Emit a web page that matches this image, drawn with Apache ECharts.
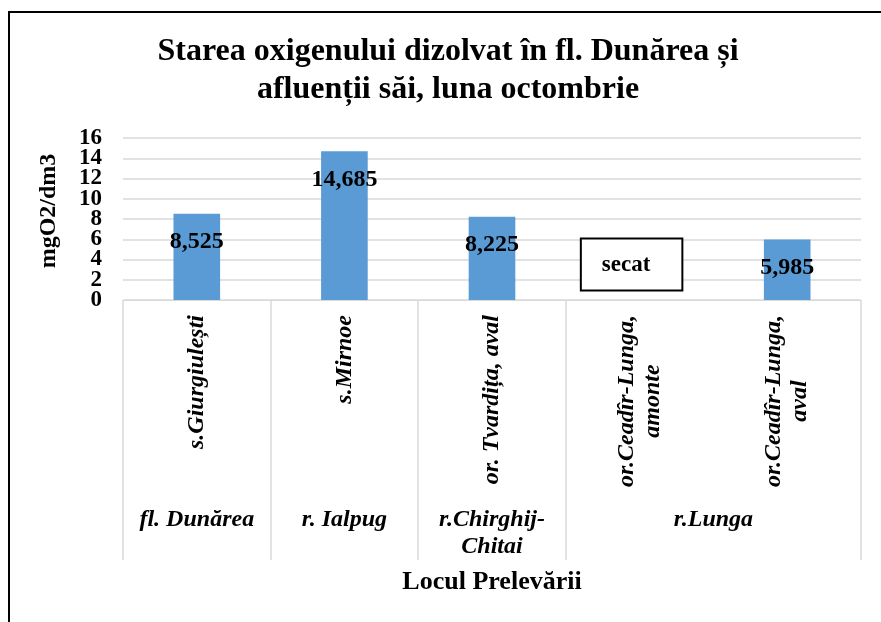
<!DOCTYPE html>
<html>
<head>
<meta charset="utf-8">
<script src="https://cdn.jsdelivr.net/npm/echarts@6/dist/echarts.min.js"></script>
<style>html,body{margin:0;padding:0;background:#fff}#c{width:881px;height:622px}</style>
</head>
<body>
<div id="c"></div>
<script>
const titleText = 'Starea oxigenului dizolvat în fl. Dunărea și\nafluenții săi, luna octombrie';
const categories = ['s.Giurgiulești', 's.Mirnoe', 'or. Tvardița, aval', 'or.Ceadîr-Lunga,\namonte', 'or.Ceadîr-Lunga,\naval'];
const values = [8.525, 14.685, 8.225, null, 5.985];
const notes = ['', '', '', 'secat', ''];
const groups = ['fl. Dunărea', 'r. Ialpug', 'r.Chirghij-\nChitai', 'r.Lunga'];
const groupCenters = [0.5, 1.5, 2.5, 4];
const groupBounds = [0, 1, 2, 3, 5];
const yTicks = [0, 2, 4, 6, 8, 10, 12, 14, 16];
const yName = 'mgO2/dm3';
const xName = 'Locul Prelevării';

const FONT = 'Liberation Serif, Times New Roman, serif';
const noteData = notes.map((n, i) => n ? { value: [i, 0], note: n } : null).filter(Boolean);
const yMin = yTicks[0], yMax = yTicks[yTicks.length - 1];
const yLabelStyle = { margin: 21, fontFamily: FONT, fontSize: 23, fontWeight: 'bold', color: '#000', showMinLabel: true, showMaxLabel: true };

const chart = echarts.init(document.getElementById('c'));
chart.setOption({
  animation: false,
  textStyle: { fontFamily: FONT, color: '#000' },
  title: {
    text: titleText,
    left: 448, top: 33, padding: 0, textAlign: 'center',
    textStyle: { fontFamily: FONT, fontSize: 32, fontWeight: 'bold', lineHeight: 38, color: '#000' }
  },
  graphic: [{
    type: 'rect', silent: true,
    shape: { x: 9, y: 12, width: 1000, height: 1000 },
    style: { fill: 'none', stroke: '#000', lineWidth: 2 }
  }],
  grid: { left: 123, right: 20, top: 138, bottom: 322, containLabel: false },
  xAxis: [{
    type: 'category',
    data: categories,
    position: 'bottom',
    axisLine: { show: true, lineStyle: { color: '#d9d9d9', width: 1 } },
    axisTick: { show: false },
    axisLabel: {
      rotate: 90, margin: 15, interval: 0,
      formatter: v => v.split('\n').map(s => '{c|' + s + '}').join('\n'),
      rich: { c: { align: 'center', fontFamily: FONT, fontSize: 24, fontWeight: 'bold', fontStyle: 'italic', color: '#000', lineHeight: 26 } }
    },
    splitLine: { show: false }
  }, {
    type: 'value',
    min: 0, max: 5,
    position: 'bottom',
    axisLine: { show: false },
    axisTick: { show: true, customValues: groupBounds, length: 260, lineStyle: { color: '#d9d9d9', width: 1.5 } },
    axisLabel: {
      customValues: groupCenters, margin: 206,
      formatter: v => { const i = groupCenters.indexOf(v); return i >= 0 ? groups[i] : ''; },
      fontFamily: FONT, fontSize: 24, fontWeight: 'bold', fontStyle: 'italic', color: '#000', lineHeight: 27
    },
    splitLine: { show: false },
    name: xName, nameLocation: 'middle', nameGap: 269,
    nameTextStyle: { fontFamily: FONT, fontSize: 26, fontWeight: 'bold', color: '#000' }
  }],
  yAxis: [{
    type: 'value', min: yMin, max: yMax, interval: 2, position: 'left',
    axisLine: { show: false }, axisTick: { show: false },
    axisLabel: Object.assign({ customValues: yTicks.filter((v, i) => i % 2 === 0) }, yLabelStyle),
    splitLine: { lineStyle: { color: '#d9d9d9', width: 1.5 } },
    name: yName, nameLocation: 'middle', nameGap: 62,
    nameTextStyle: { fontFamily: FONT, fontSize: 24, fontWeight: 'bold', color: '#000', padding: [0, 0, 0, 16] }
  }, {
    type: 'value', min: yMin, max: yMax, interval: 2, position: 'left',
    axisLine: { show: false }, axisTick: { show: false },
    axisLabel: Object.assign({ customValues: yTicks.filter((v, i) => i % 2 === 1) }, yLabelStyle),
    splitLine: { show: false }
  }],
  series: [{
    type: 'bar', xAxisIndex: 0, yAxisIndex: 0,
    data: values,
    barWidth: '31.6%',
    itemStyle: { color: '#5b9bd5' },
    label: {
      show: true, position: 'insideTop', distance: 16,
      formatter: p => p.value == null ? '' : p.value.toFixed(3).replace('.', ','),
      fontFamily: FONT, fontSize: 24, fontWeight: 'bold', color: '#000'
    }
  }, {
    type: 'scatter', xAxisIndex: 0, yAxisIndex: 0,
    data: noteData,
    symbol: 'rect', symbolSize: 1, itemStyle: { color: 'rgba(0,0,0,0)', opacity: 1 },
    z: 5,
    label: {
      show: true, position: 'top', distance: 10, offset: [-8, 0],
      formatter: p => p.data.note,
      backgroundColor: '#fff', borderColor: '#000', borderWidth: 2,
      padding: [14, 31, 13, 20],
      fontFamily: FONT, fontSize: 23, fontWeight: 'bold', color: '#000'
    }
  }]
});
</script>
</body>
</html>
